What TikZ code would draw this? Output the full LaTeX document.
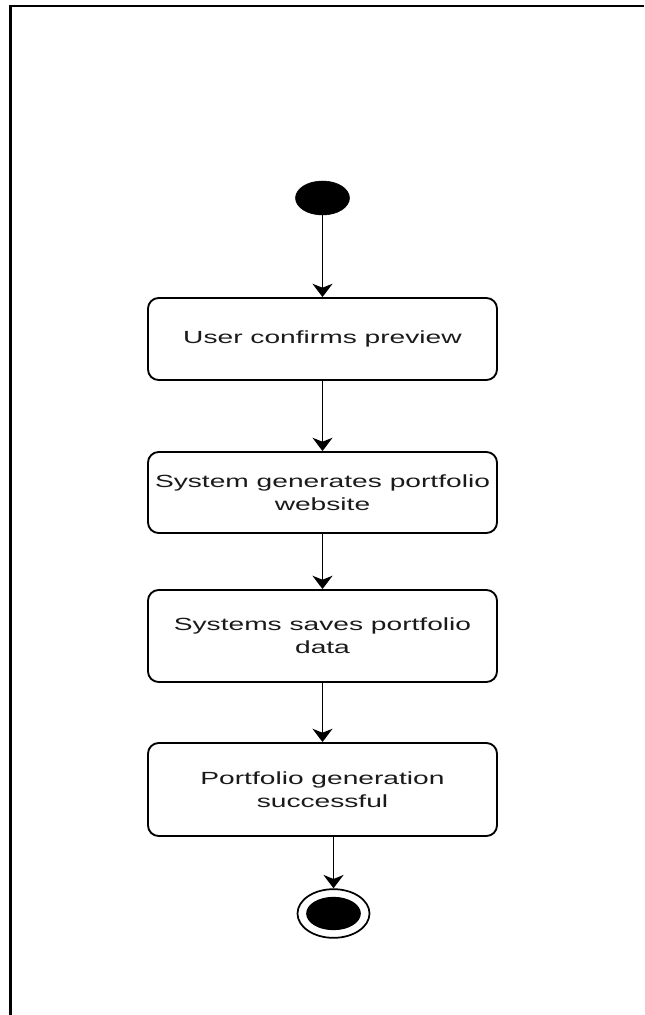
\documentclass[tikz,border=0pt]{standalone}
\usepackage{fontspec}
\usetikzlibrary{shapes.geometric,arrows.meta}
\newfontfamily\labelfont[FakeStretch=1.6]{Liberation Sans}
\definecolor{inkgray}{HTML}{1A1A1A}
\tikzset{
  activity/.style={draw, line width=1.4pt, rounded corners=8pt, fill=white,
    minimum width=261.75pt, inner sep=0pt, align=center, text=inkgray,
    font=\labelfont\fontsize{13.2}{17.5}\selectfont},
  startdot/.style={ellipse, fill=black, draw=black, inner sep=0pt,
    minimum width=40.5pt, minimum height=25.5pt},
  endring/.style={ellipse, draw=black, line width=1.3pt, fill=white, inner sep=0pt,
    minimum width=54pt, minimum height=36.5pt},
  enddot/.style={ellipse, fill=black, inner sep=0pt,
    minimum width=41pt, minimum height=25pt},
  flow/.style={line width=1.2pt, -{Stealth[length=10pt, width=15pt, inset=3pt]}}
}
\begin{document}
\begin{tikzpicture}[x=0.75pt, y=-0.75pt]
  % page extent
  \useasboundingbox (0,0) rectangle (644,1015);
  \fill[white] (0,0) rectangle (644,1015);
  % frame edges
  \draw[line width=1.6pt, black] (10.5,1015) -- (10.5,6) -- (644,6);

  % nodes
  \node[startdot] (start) at (322.5,198) {};
  \node[activity, minimum height=61.5pt] (confirm) at (322.5,339)
    {User confirms preview};
  \node[activity, minimum height=60.75pt] (generate) at (322.5,492.5)
    {System generates portfolio\\website};
  \node[activity, minimum height=69pt] (save) at (322.5,636)
    {Systems saves portfolio\\data};
  \node[activity, minimum height=69.75pt] (success) at (322.5,789.5)
    {Portfolio generation\\successful};
  \node[endring] (finish) at (333.5,913.5) {};
  \node[enddot] (finishdot) at (finish.center) {};

  % transitions
  \draw[flow] (start) -- (confirm);
  \draw[flow] (confirm) -- (generate);
  \draw[flow] (generate) -- (save);
  \draw[flow] (save) -- (success);
  \draw[flow] (finish.north |- success.south) -- (finish.north);
\end{tikzpicture}
\end{document}
